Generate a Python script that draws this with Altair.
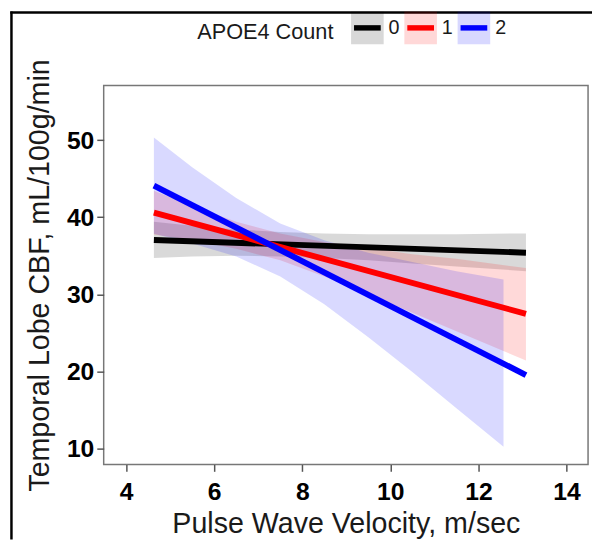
import altair as alt
import pandas as pd

# ---- data ----
groups = ["0", "1", "2"]
colors = ["#000000", "#FF0000", "#0000FF"]

# fitted lines (end points)
line_x = [4.63, 13.08]
line_y0 = [37.05, 35.4]
line_y1 = [40.6, 27.45]
line_y2 = [44.1, 19.5]

# confidence bands
band_x01 = [4.63, 5.5, 6.5, 7.5, 8.5, 9.5, 10.5, 11.5, 13.08]
band_x2 = [4.63, 5.5, 6.5, 7.5, 8.5, 9.5, 10.5, 11.5, 12.57]
lo_0 = [34.7, 34.9, 35.0, 34.9, 34.7, 34.4, 34.0, 33.6, 33.0]
hi_0 = [39.4, 38.9, 38.4, 38.1, 37.9, 37.8, 37.8, 37.8, 37.9]
lo_1 = [37.75, 37.0, 35.9, 34.4, 32.3, 30.0, 27.6, 25.2, 21.4]
hi_1 = [43.45, 41.5, 39.4, 37.9, 36.8, 36.0, 35.2, 34.6, 33.4]
lo_2 = [37.85, 36.6, 34.9, 32.3, 28.7, 24.4, 19.9, 15.2, 10.2]
hi_2 = [50.35, 46.5, 42.5, 39.2, 37.0, 35.4, 34.2, 33.0, 31.9]

x_ticks = [4, 6, 8, 10, 12, 14]
y_ticks = [10, 20, 30, 40, 50]

# ---- tables ----
lines = pd.DataFrame({
    "x": line_x * 3,
    "y": line_y0 + line_y1 + line_y2,
    "apoe": [g for g in groups for _ in line_x],
})
bands = pd.DataFrame({
    "x": band_x01 + band_x01 + band_x2,
    "lo": lo_0 + lo_1 + lo_2,
    "hi": hi_0 + hi_1 + hi_2,
    "apoe_band": [g for g in groups for _ in band_x01],
})

FONT = "Liberation Sans"
x_scale = alt.Scale(domain=[3.49, 14.49], nice=False, zero=False)
y_scale = alt.Scale(domain=[7.9, 57.1], nice=False, zero=False)

x_axis = alt.Axis(values=x_ticks, title="Pulse Wave Velocity, m/sec", labelPadding=9,
                  titlePadding=5, titleFontSize=29)
y_axis = alt.Axis(values=y_ticks, title="Temporal Lobe CBF, mL/100g/min", labelPadding=3,
                  titlePadding=12, titleFontSize=29)

LX, LY = 94.8, -78
COLPAD = -7

fill_legend = alt.Legend(
    title="APOE4 Count", orient="none", legendX=LX, legendY=LY, direction="horizontal",
    titleOrient="left", titleFontSize=22, titleFontWeight="normal", titleColor="#1a1a1a",
    titlePadding=14, titleFont=FONT, titleAnchor="middle", titleBaseline="middle",
    symbolType="square", symbolSize=1089, symbolStrokeWidth=5.5,
    symbolStrokeColor="transparent", symbolOpacity=0.15,
    labelFontSize=20, labelOpacity=0, labelOffset=2, columnPadding=COLPAD, padding=0,
    zindex=0,
)
stroke_legend = alt.Legend(
    title="APOE4 Count", orient="none", legendX=LX, legendY=LY, direction="horizontal",
    titleOrient="left", titleFontSize=22, titleFontWeight="normal", titleOpacity=0,
    titlePadding=14, titleFont=FONT, titleAnchor="middle", titleBaseline="middle",
    symbolType="M-1,-1M1,1M-0.82,0H0.82", symbolSize=1089, symbolStrokeWidth=5.5,
    symbolFillColor="transparent", symbolOpacity=1,
    labelFontSize=20, labelColor="#1a1a1a", labelFont=FONT, labelOffset=2,
    columnPadding=COLPAD, padding=0, zindex=1,
)

area = alt.Chart(bands).mark_area(opacity=0.15).encode(
    x=alt.X("x:Q", scale=x_scale, axis=x_axis),
    y=alt.Y("lo:Q", scale=y_scale, axis=y_axis, stack=False),
    y2="hi:Q",
    fill=alt.Fill("apoe_band:N", scale=alt.Scale(range=colors), legend=fill_legend),
)

line = alt.Chart(lines).mark_line(strokeWidth=6, strokeCap="butt").encode(
    x=alt.X("x:Q", scale=x_scale, axis=x_axis),
    y=alt.Y("y:Q", scale=y_scale, axis=y_axis),
    stroke=alt.Stroke("apoe:N", scale=alt.Scale(domain=groups, range=colors),
                      legend=stroke_legend),
)

frame_df = pd.DataFrame({"k": [0]})
frame_left = alt.Chart(frame_df).mark_rule(color="black", strokeWidth=2.5).encode(
    x=alt.value(-93.5), y=alt.value(-75), y2=alt.value(460)
)
frame_top = alt.Chart(frame_df).mark_rule(color="black", strokeWidth=2.5).encode(
    x=alt.value(-94.7), x2=alt.value(500), y=alt.value(-74)
)

chart = alt.layer(area, line, frame_left, frame_top).properties(
    width=491, height=384,
    padding={"left": 97, "top": 75, "right": 4, "bottom": 75},
    autosize=alt.AutoSizeParams(type="none"),
    background="white",
).configure(font=FONT).configure_view(
    stroke="#777777", strokeWidth=1.5
).configure_axis(
    grid=False, domain=False, labelColor="black", titleColor="#1a1a1a",
    tickColor="#555555", tickWidth=1.5, tickSize=7,
    labelFontSize=25, labelFontWeight="bold", labelFont=FONT,
    titleFontWeight="normal", titleFont=FONT,
)

chart.save("out.html", embed_options={"renderer": "svg", "actions": False})
